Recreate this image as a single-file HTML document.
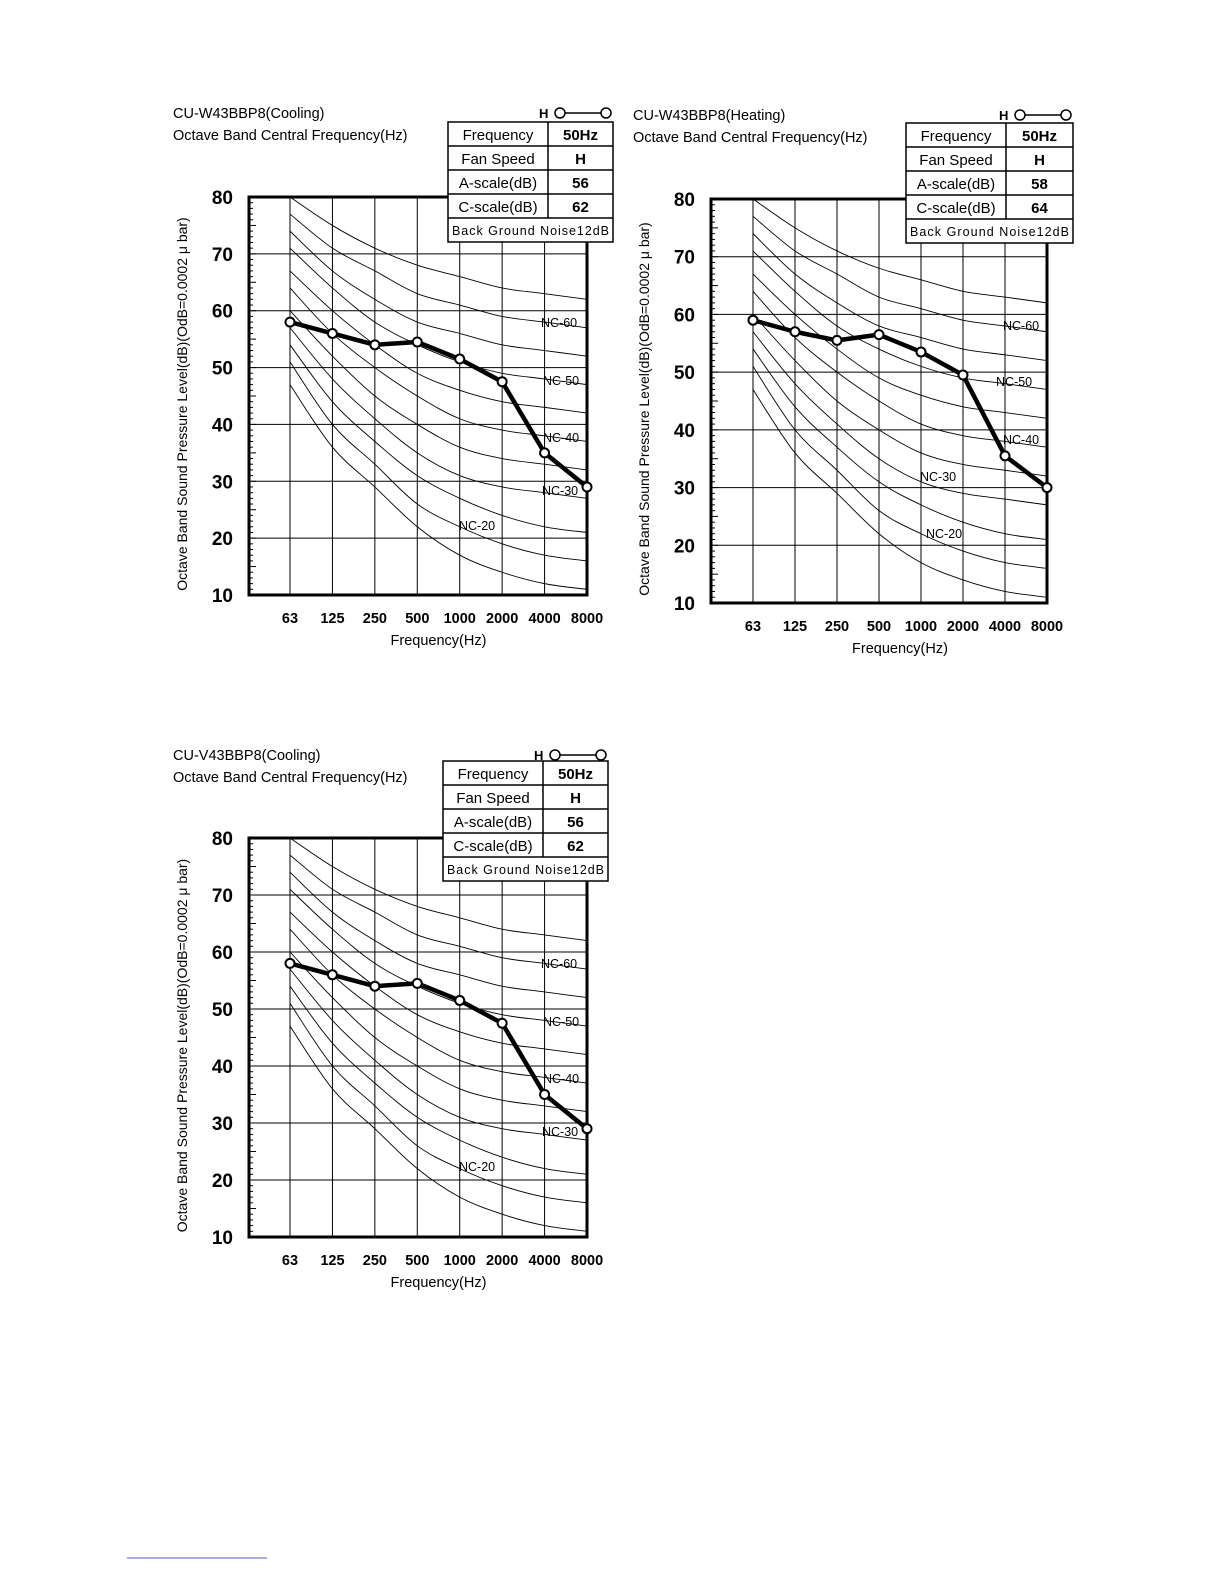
<!DOCTYPE html>
<html><head><meta charset="utf-8">
<style>
html,body{margin:0;padding:0;background:#fff;}
body{width:1224px;height:1584px;position:relative;overflow:hidden;font-family:"Liberation Sans",sans-serif;}
svg{position:absolute;left:0;top:0;}
text{font-family:"Liberation Sans",sans-serif;fill:#000;}
</style></head><body>
<svg id="s" width="1224" height="1584" viewBox="0 0 1224 1584"></svg>
<script>
const S=document.getElementById('s');
let h='';
const NC={
15:[47,36,29,22,17,14,12,11],
20:[51,40,33,26,22,19,17,16],
25:[54,44,37,31,27,24,22,21],
30:[57,48,41,35,31,29,28,27],
35:[60,52,45,40,36,34,33,32],
40:[64,56,50,45,41,39,38,37],
45:[67,60,54,49,46,44,43,42],
50:[71,64,58,54,51,49,48,47],
55:[74,67,62,58,56,54,53,52],
60:[77,71,67,63,61,59,58,57],
65:[80,75,71,68,66,64,63,62]};
function chart(id,c){
 const X=i=>c.x63+i*c.dx, Y=v=>c.y10-(v-10)*(c.y10-c.y80)/70;
 const L=c.left,R=X(7),T=c.y80,B=c.y10;
 h+=`<clipPath id="cp${id}"><rect x="${L}" y="${T}" width="${R-L}" height="${B-T}"/></clipPath>`;
 // grid
 for(let v=20;v<80;v+=10)h+=`<line x1="${L}" x2="${R}" y1="${Y(v)}" y2="${Y(v)}" stroke="#000" stroke-width="1"/>`;
 for(let i=0;i<7;i++)h+=`<line x1="${X(i)}" x2="${X(i)}" y1="${T}" y2="${B}" stroke="#000" stroke-width="1"/>`;
 for(let v=11;v<80;v++)h+=`<line x1="${L}" x2="${L+(v%5?4:7)}" y1="${Y(v)}" y2="${Y(v)}" stroke="#000" stroke-width="1"/>`;
 // NC curves
 h+=`<g clip-path="url(#cp${id})" fill="none" stroke="#000" stroke-width="0.9">`;
 for(const k in NC){const a=NC[k];const p=a.map((v,i)=>[X(i),Y(v)]);
  let d=`M${p[0][0]},${p[0][1]}`;
  for(let i=0;i<7;i++){const p0=p[Math.max(0,i-1)],p1=p[i],p2=p[i+1],p3=p[Math.min(7,i+2)];
   const c1=[p1[0]+(p2[0]-p0[0])/6,p1[1]+(p2[1]-p0[1])/6],c2=[p2[0]-(p3[0]-p1[0])/6,p2[1]-(p3[1]-p1[1])/6];
   d+=` C${c1[0]},${c1[1]} ${c2[0]},${c2[1]} ${p2[0]},${p2[1]}`;}
  h+=`<path d="${d}"/>`;}
 h+=`</g>`;
 h+=`<rect x="${L}" y="${T}" width="${R-L}" height="${B-T}" fill="none" stroke="#000" stroke-width="3"/>`;
 // NC labels
 for(const l of c.labels)h+=`<text x="${l[0]}" y="${l[1]}" font-size="12.5">${l[2]}</text>`;
 // data
 const pts=c.data.map((v,i)=>`${X(i)},${Y(v)}`).join(' ');
 h+=`<polyline points="${pts}" fill="none" stroke="#000" stroke-width="4.5" stroke-linejoin="round"/>`;
 c.data.forEach((v,i)=>h+=`<circle cx="${X(i)}" cy="${Y(v)}" r="4.5" fill="#fff" stroke="#000" stroke-width="2"/>`);
 // y labels
 for(let v=10;v<=80;v+=10)h+=`<text x="${L-16}" y="${Y(v)+7}" font-size="19" font-weight="bold" text-anchor="end">${v}</text>`;
 const fr=['63','125','250','500','1000','2000','4000','8000'];
 fr.forEach((f,i)=>h+=`<text x="${X(i)}" y="${B+28}" font-size="14.5" font-weight="bold" text-anchor="middle">${f}</text>`);
 h+=`<text x="${(X(0)+X(7))/2}" y="${B+50}" font-size="14.5" text-anchor="middle">Frequency(Hz)</text>`;
 h+=`<text transform="translate(${L-62},${(T+B)/2+8}) rotate(-90)" font-size="14" text-anchor="middle">Octave Band Sound Pressure Level(dB)(OdB=0.0002 μ bar)</text>`;
 // titles
 h+=`<text x="${c.tx}" y="${c.ty}" font-size="14.5">${c.title}</text>`;
 h+=`<text x="${c.tx}" y="${c.ty+22}" font-size="14.5">Octave Band Central Frequency(Hz)</text>`;
 // legend
 const lx=c.tbx+c.tbw;
 h+=`<text x="${lx-74}" y="${c.ty}" font-size="13" font-weight="bold">H</text><line x1="${lx-53}" x2="${lx-7}" y1="${c.ty-5}" y2="${c.ty-5}" stroke="#000" stroke-width="1.5"/><circle cx="${lx-53}" cy="${c.ty-5}" r="5" fill="#fff" stroke="#000" stroke-width="1.5"/><circle cx="${lx-7}" cy="${c.ty-5}" r="5" fill="#fff" stroke="#000" stroke-width="1.5"/>`;
 // table
 const tx=c.tbx,ty=c.tby,tw=c.tbw,rh=24,cs=100;
 h+=`<rect x="${tx}" y="${ty}" width="${tw}" height="${rh*5}" fill="#fff" stroke="#000" stroke-width="1.5"/>`;
 for(let r=1;r<5;r++)h+=`<line x1="${tx}" x2="${tx+tw}" y1="${ty+r*rh}" y2="${ty+r*rh}" stroke="#000" stroke-width="1.5"/>`;
 h+=`<line x1="${tx+cs}" x2="${tx+cs}" y1="${ty}" y2="${ty+rh*4}" stroke="#000" stroke-width="1.5"/>`;
 const rows=[['Frequency','50Hz'],['Fan Speed','H'],['A-scale(dB)',c.a],['C-scale(dB)',c.c]];
 rows.forEach((r,i)=>{h+=`<text x="${tx+cs/2}" y="${ty+i*rh+18}" font-size="15" text-anchor="middle">${r[0]}</text><text x="${tx+cs+(tw-cs)/2}" y="${ty+i*rh+18}" font-size="15" font-weight="bold" text-anchor="middle">${r[1]}</text>`;});
 h+=`<text x="${tx+4}" y="${ty+4*rh+17}" font-size="12.5" textLength="${tw-8}">Back Ground Noise12dB</text>`;
}
const d1=[58,56,54,54.5,51.5,47.5,35,29];
const lab1=(dy)=>[[541,327+dy,'NC-60'],[543,385+dy,'NC-50'],[543,442+dy,'NC-40'],[542,495+dy,'NC-30'],[459,530+dy,'NC-20']];
chart(1,{left:249,x63:290,dx:42.43,y80:197,y10:595,data:d1,labels:lab1(0),title:'CU-W43BBP8(Cooling)',tx:173,ty:118,tbx:448,tby:122,tbw:165,a:'56',c:'62'});
chart(2,{left:711,x63:753,dx:42,y80:199,y10:603,data:[59,57,55.5,56.5,53.5,49.5,35.5,30],labels:[[1003,330,'NC-60'],[996,386,'NC-50'],[1003,444,'NC-40'],[920,481,'NC-30'],[926,538,'NC-20']],title:'CU-W43BBP8(Heating)',tx:633,ty:120,tbx:906,tby:123,tbw:167,a:'58',c:'64'});
chart(3,{left:249,x63:290,dx:42.43,y80:838,y10:1237,data:d1,labels:lab1(641),title:'CU-V43BBP8(Cooling)',tx:173,ty:760,tbx:443,tby:761,tbw:165,a:'56',c:'62'});
h+=`<line x1="127" x2="267" y1="1558" y2="1558" stroke="#4a5cc0" stroke-width="1"/>`;
S.innerHTML=h;
</script>
</body></html>
